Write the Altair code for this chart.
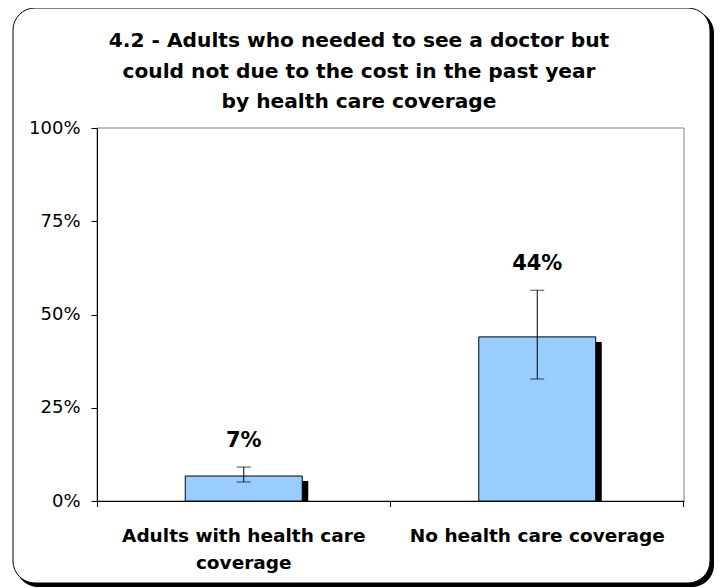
import altair as alt
import pandas as pd

categories = ["Adults with health care coverage", "No health care coverage"]
values = [6.7, 44.0]
err_low = [5.1, 32.7]
err_high = [9.1, 56.5]
labels = ["7%", "44%"]
title_lines = [
    "4.2 - Adults who needed to see a doctor but",
    "could not due to the cost in the past year",
    "by health care coverage",
]

df = pd.DataFrame({"cat": categories, "val": values, "lo": err_low, "hi": err_high, "lab": labels})
one = pd.DataFrame({"k": [0]})

W, H = 587, 373
FONT = "DejaVu Sans"

x_axis = alt.Axis(
    title=None, ticks=False, domainColor="black", labelAngle=0,
    labelExpr="datum.value == 'Adults with health care coverage' ? ['Adults with health care', 'coverage'] : datum.value",
    labelFont=FONT, labelFontSize=18.5, labelFontWeight="bold", labelColor="black",
    labelPadding=25, labelLineHeight=27, labelLimit=400, zindex=1,
)
y_axis = alt.Axis(
    title=None, grid=False, values=[0, 25, 50, 75, 100], labelExpr="datum.value + '%'",
    tickSize=6, tickColor="black", domainColor="black", labelPadding=11,
    labelFont=FONT, labelFontSize=18, labelColor="black", zindex=1,
)

X = alt.X("cat:N", sort=categories, scale=alt.Scale(paddingInner=0, paddingOuter=0), axis=x_axis)
yscale = alt.Scale(domain=[0, 100])

shadow_frame = alt.Chart(one).mark_rect(color="black", cornerRadius=22).encode(
    x=alt.value(-81), x2=alt.value(617), y=alt.value(-117), y2=alt.value(459))
frame = alt.Chart(one).mark_rect(fill="white", stroke="black", strokeWidth=1, cornerRadius=22).encode(
    x=alt.value(-84), x2=alt.value(613), y=alt.value(-120), y2=alt.value(455))
plot_border = alt.Chart(one).mark_rect(fillOpacity=0, stroke="#808080", strokeWidth=1).encode(
    x=alt.value(0), x2=alt.value(W), y=alt.value(0), y2=alt.value(H))

title_marks = [
    alt.Chart(pd.DataFrame({"t": [line]})).mark_text(
        font=FONT, fontSize=20.2, fontWeight="bold", color="black",
        align="center", baseline="alphabetic",
    ).encode(x=alt.value(262), y=alt.value(ty), text="t:N")
    for line, ty in zip(title_lines, [-81, -50.5, -20])
]

bar_shadow = alt.Chart(df).mark_bar(color="black", size=117, xOffset=6, yOffset=5, clip=True).encode(
    x=X, y=alt.Y("val:Q", scale=yscale, axis=y_axis))
bars = alt.Chart(df).mark_bar(fill="#99CCFF", stroke="black", strokeWidth=1, size=117).encode(
    x=X, y=alt.Y("val:Q", scale=yscale, axis=y_axis))
err = alt.Chart(df).mark_rule(color="black", strokeWidth=1).encode(
    x=X, y=alt.Y("lo:Q", scale=yscale, axis=y_axis), y2="hi:Q")
cap_hi = alt.Chart(df).mark_tick(color="black", size=14, thickness=1).encode(
    x=X, y=alt.Y("hi:Q", scale=yscale, axis=y_axis))
cap_lo = alt.Chart(df).mark_tick(color="black", size=14, thickness=1).encode(
    x=X, y=alt.Y("lo:Q", scale=yscale, axis=y_axis))
text = alt.Chart(df).mark_text(font=FONT, fontSize=21, fontWeight="bold", dy=-26, baseline="middle", color="black").encode(
    x=X, y=alt.Y("hi:Q", scale=yscale, axis=y_axis), text="lab:N")

ticks = [
    alt.Chart(one).mark_rule(color="black", strokeWidth=1).encode(
        x=alt.value(px), y=alt.value(H), y2=alt.value(H + 6))
    for px in [0.5, W / 2, W - 0.5]
]

chart = alt.layer(
    shadow_frame, frame, plot_border, *title_marks,
    bar_shadow, bars, err, cap_hi, cap_lo, text, *ticks
).properties(
    width=W, height=H,
    padding={"left": 89, "top": 120, "right": 30, "bottom": 86},
    autosize=alt.AutoSizeParams(type="none"),
).configure_view(strokeWidth=0)

chart.save("out.html", embed_options={"renderer": "svg", "actions": False})
